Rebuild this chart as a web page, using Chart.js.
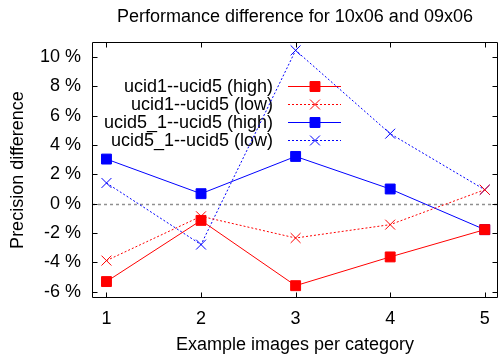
<!DOCTYPE html>
<html>
<head>
<meta charset="utf-8">
<script src="https://cdn.jsdelivr.net/npm/chart.js@4"></script>
<style>
html,body{margin:0;padding:0;background:#fff;}
#wrap{width:499px;height:358px;}
</style>
</head>
<body>
<div id="wrap"><canvas id="c" width="499" height="358"></canvas></div>
<script>
const chartTitle = "Performance difference for 10x06 and 09x06";
const xTitle = "Example images per category";
const yTitle = "Precision difference";
const categories = [1, 2, 3, 4, 5];
const xTicks = [1, 2, 3, 4, 5];
const yTicks = [-6, -4, -2, 0, 2, 4, 6, 8, 10];
const seriesNames = ["ucid1--ucid5 (high)", "ucid1--ucid5 (low)", "ucid5_1--ucid5 (high)", "ucid5_1--ucid5 (low)"];
const ucid1High = [-5.31, -1.14, -5.59, -3.63, -1.77];
const ucid1Low = [-3.88, -0.86, -2.34, -1.43, 0.95];
const ucid51High = [3.04, 0.68, 3.22, 1.0, -1.77];
const ucid51Low = [1.41, -2.79, 10.45, 4.77, 0.95];

const FONT = "'Liberation Sans', Arial, sans-serif";
Chart.defaults.font.family = FONT;
Chart.defaults.font.size = 18;
Chart.defaults.color = '#000';

function pts(arr){ return categories.map((c,i)=>({x:c, y:arr[i]})); }

const styles = [
  {color:'#ff0000', dash:[], point:'rect', radius:7},
  {color:'#ff0000', dash:[2,2], point:'crossRot', radius:7},
  {color:'#0000ff', dash:[], point:'rect', radius:7},
  {color:'#0000ff', dash:[2,2], point:'crossRot', radius:7}
];
const dataArrs = [ucid1High, ucid1Low, ucid51High, ucid51Low];

const datasets = dataArrs.map((arr,i)=>({
  label: seriesNames[i],
  data: pts(arr),
  borderColor: styles[i].color,
  backgroundColor: styles[i].color,
  borderWidth: 1,
  borderDash: styles[i].dash,
  pointStyle: styles[i].point,
  pointRadius: styles[i].radius,
  pointBorderWidth: 1,
  pointBackgroundColor: styles[i].color,
  pointBorderColor: styles[i].color,
  tension: 0,
  fill: false,
  clip: 8
}));

const framePlugin = {
  id: 'frame',
  beforeDatasetsDraw(chart){
    const ctx = chart.ctx, a = chart.chartArea;
    const ys = chart.scales.y;
    ctx.save();
    const y0 = Math.round(ys.getPixelForValue(0)) + 0.5;
    ctx.strokeStyle = '#909090';
    ctx.lineWidth = 1.5;
    ctx.setLineDash([3,3]);
    ctx.beginPath(); ctx.moveTo(a.left, y0); ctx.lineTo(a.right, y0); ctx.stroke();
    ctx.setLineDash([]);
    ctx.font = '18px ' + FONT;
    ctx.textAlign = 'right';
    ctx.textBaseline = 'middle';
    const textRight = a.left + 181, sx0 = a.left + 196, sx1 = a.left + 249, mx = a.left + 223;
    for (let i = 0; i < seriesNames.length; i++) {
      const yy = a.top + 44 + i * 18.1;
      ctx.fillStyle = '#000';
      ctx.fillText(seriesNames[i], textRight, yy + 1);
      const st = styles[i];
      ctx.strokeStyle = st.color; ctx.fillStyle = st.color;
      ctx.lineWidth = 1;
      ctx.setLineDash(st.dash);
      ctx.beginPath(); ctx.moveTo(sx0, Math.round(yy)+0.5); ctx.lineTo(sx1, Math.round(yy)+0.5); ctx.stroke();
      ctx.setLineDash([]);
      Chart.helpers.drawPoint(ctx, {pointStyle: st.point, radius: st.radius, borderWidth: 1}, mx, Math.round(yy)+0.5);
      if (st.point === 'rect') ctx.fill();
    }
    ctx.restore();
  },
  afterDraw(chart){
    const ctx = chart.ctx, a = chart.chartArea;
    const xs = chart.scales.x, ys = chart.scales.y;
    ctx.save();
    ctx.strokeStyle = '#000';
    ctx.lineWidth = 1;
    const L = Math.round(a.left)+0.5, R = Math.round(a.right)-0.5, T = Math.round(a.top)+0.5, B = Math.round(a.bottom)-0.5;
    ctx.beginPath();
    ctx.rect(L, T, R-L, B-T);
    ctx.stroke();
    const tl = 5;
    ctx.beginPath();
    yTicks.forEach(v=>{
      const y = Math.round(ys.getPixelForValue(v)) + 0.5;
      ctx.moveTo(L, y); ctx.lineTo(L+tl, y);
      ctx.moveTo(R, y); ctx.lineTo(R-tl, y);
    });
    xTicks.forEach(v=>{
      const x = Math.round(xs.getPixelForValue(v)) + 0.5;
      ctx.moveTo(x, B); ctx.lineTo(x, B-tl);
      ctx.moveTo(x, T); ctx.lineTo(x, T+tl);
    });
    ctx.stroke();
    ctx.fillStyle = '#000';
    ctx.font = '18px ' + FONT;
    ctx.textAlign = 'center';
    ctx.textBaseline = 'alphabetic';
    ctx.fillText(chartTitle, (a.left + a.right)/2, 22);
    ctx.restore();
  }
};

new Chart(document.getElementById('c'), {
  type: 'line',
  data: { datasets },
  options: {
    responsive: false,
    animation: false,
    devicePixelRatio: 1,
    layout: { autoPadding: false, padding: { top: 42, right: 1, left: 0, bottom: 0 } },
    plugins: { legend: { display: false }, title: { display: false }, tooltip: { enabled: false } },
    scales: {
      x: {
        type: 'linear',
        min: 0.847, max: 5.14,
        afterBuildTicks(s){ s.ticks = xTicks.map(v=>({value:v})); },
        afterFit(s){ s.height = 60; s.paddingLeft = 0; s.paddingRight = 0; },
        grid: { display: false, drawTicks: false },
        border: { display: false },
        ticks: { padding: 10, callback: v => String(v), maxRotation: 0, autoSkip: false },
        title: { display: true, text: xTitle, padding: { top: 0, bottom: 2 } }
      },
      y: {
        type: 'linear',
        min: -6.43, max: 11.02,
        afterBuildTicks(s){ s.ticks = yTicks.map(v=>({value:v})); },
        afterFit(s){ s.width = 92; s.paddingTop = 0; s.paddingBottom = 0; },
        grid: { display: false, drawTicks: false },
        border: { display: false },
        ticks: { padding: 11, callback: v => v + ' %', autoSkip: false },
        title: { display: true, text: yTitle, padding: { top: 7, bottom: 0 } }
      }
    }
  },
  plugins: [framePlugin]
});
</script>
</body>
</html>
